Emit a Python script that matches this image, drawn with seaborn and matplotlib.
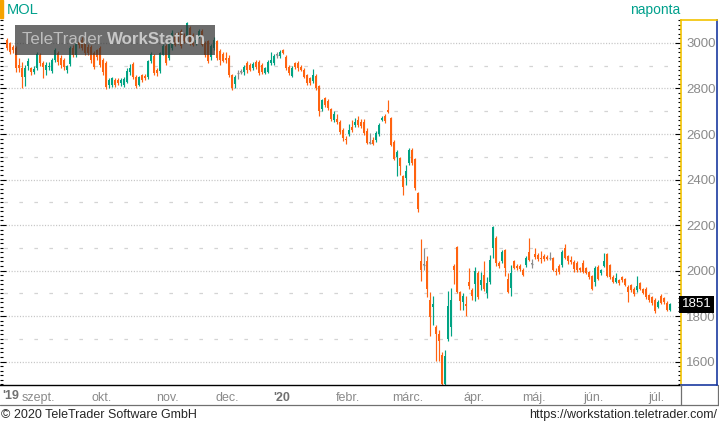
import numpy as np
import pandas as pd
import matplotlib
matplotlib.use('Agg')
import matplotlib.pyplot as plt
from matplotlib.ticker import MultipleLocator
from matplotlib.lines import Line2D
from matplotlib.patches import Rectangle
import seaborn as sns

## MOL daily candles, aug 2019 - jul 2020
holidays = ['2019-08-19', '2019-08-20', '2019-10-23', '2019-11-01', '2019-12-24',
            '2019-12-25', '2019-12-26', '2019-12-27', '2020-01-01', '2020-04-10',
            '2020-04-13', '2020-05-01', '2020-06-01']
dates = pd.bdate_range('2019-08-14', '2020-07-07')
dates = dates[~dates.isin(pd.to_datetime(holidays))]

opens = [3013, 2998, 2984, 2977, 2903, 2889, 2852, 2899, 2889, 2872, 2889, 2947, 2911, 2881, 2893, 2877,
         2925, 2955, 2935, 2925, 2881, 2908, 2977, 2947, 3005, 3013, 2999, 2984, 2984, 2955, 2969, 2977,
         2925, 2911, 2815, 2815, 2837, 2837, 2822, 2815, 2830, 2874, 2906, 2852, 2817, 2858, 2855, 2849,
         2920, 2941, 2883, 2876, 2949, 2985, 2934, 2978, 3036, 3044, 3051, 3036, 3029, 3066, 3036, 3000,
         3029, 3051, 3000, 3007, 2937, 2978, 3007, 2963, 2952, 2935, 2934, 2859, 2818, 2866, 2874, 2871,
         2913, 2903, 2889, 2918, 2918, 2903, 2870, 2874, 2911, 2911, 2947, 2943, 2969, 2937, 2896, 2855,
         2911, 2913, 2896, 2881, 2859, 2845, 2834, 2855, 2811, 2708, 2757, 2746, 2709, 2661, 2667, 2654,
         2618, 2577, 2600, 2632, 2640, 2662, 2653, 2653, 2615, 2562, 2574, 2574, 2600, 2662, 2679, 2705,
         2670, 2567, 2500, 2494, 2415, 2405, 2474, 2530, 2489, 2339, 2042, 2024, 2042, 1870, 1841, 1752,
         1721, 1628, 1501, 1699, 1752, 2020, 2103, 1907, 1862, 1852, 1950, 1914, 1941, 1990, 1935, 1982,
         1900, 1951, 2100, 2143, 2035, 2044, 2090, 1962, 1923, 2042, 2022, 2022, 2004, 2024, 2082, 2030,
         2073, 2068, 2055, 2066, 2060, 2054, 2055, 1998, 2020, 2024, 2101, 2064, 2046, 2038, 2031, 2009,
         2031, 2009, 1994, 1975, 1950, 2016, 1988, 2020, 2073, 2024, 1973, 1951, 1958, 1970, 1961, 1929,
         1936, 1921, 1914, 1944, 1917, 1921, 1892, 1882, 1870, 1841, 1888, 1878, 1859, 1826]
highs = [3020, 3005, 2990, 2985, 2934, 2916, 2903, 2934, 2895, 2900, 2960, 2955, 2920, 2915, 2915, 2935,
         2980, 2965, 2945, 2935, 2905, 2985, 2990, 3010, 3015, 3025, 3005, 2995, 2990, 2965, 2975, 2985,
         2935, 2920, 2845, 2850, 2845, 2845, 2845, 2850, 2890, 2908, 2915, 2858, 2855, 2865, 2862, 2925,
         2960, 2950, 2890, 2962, 2995, 2995, 3008, 3055, 3045, 3050, 3060, 3045, 3092, 3075, 3045, 3025,
         3060, 3060, 3010, 3015, 2995, 3025, 3015, 2975, 2960, 2960, 2945, 2865, 2858, 2880, 2885, 2905,
         2920, 2910, 2915, 2925, 2925, 2910, 2895, 2925, 2960, 2950, 2960, 2968, 2975, 2945, 2905, 2900,
         2918, 2920, 2905, 2888, 2865, 2850, 2886, 2862, 2815, 2755, 2762, 2752, 2715, 2700, 2690, 2662,
         2625, 2590, 2644, 2660, 2670, 2678, 2665, 2665, 2625, 2604, 2585, 2612, 2648, 2680, 2690, 2749,
         2675, 2575, 2530, 2500, 2420, 2464, 2538, 2540, 2495, 2345, 2138, 2099, 2064, 1907, 1887, 1760,
         1738, 1640, 1650, 1910, 1923, 2030, 2110, 1912, 1900, 1890, 2012, 1925, 2015, 2000, 1995, 2040,
         1970, 2068, 2195, 2150, 2040, 2090, 2095, 1990, 2025, 2045, 2030, 2030, 2010, 2065, 2145, 2050,
         2100, 2075, 2085, 2072, 2068, 2080, 2060, 2010, 2030, 2090, 2115, 2070, 2064, 2045, 2040, 2015,
         2045, 2015, 2000, 1980, 2020, 2025, 2008, 2077, 2078, 2030, 1980, 1989, 1965, 1978, 1968, 1935,
         1942, 1928, 1975, 1950, 1925, 1928, 1898, 1890, 1878, 1870, 1895, 1885, 1865, 1858]
lows = [2969, 2950, 2955, 2874, 2872, 2802, 2811, 2881, 2860, 2865, 2880, 2900, 2846, 2860, 2880, 2870,
        2915, 2905, 2890, 2880, 2870, 2900, 2940, 2940, 2980, 2970, 2945, 2945, 2912, 2885, 2925, 2895,
        2860, 2798, 2800, 2805, 2805, 2815, 2810, 2805, 2822, 2860, 2840, 2800, 2810, 2830, 2838, 2840,
        2912, 2860, 2855, 2870, 2945, 2905, 2925, 2970, 2985, 2995, 2978, 3000, 3020, 2990, 2985, 2990,
        3020, 2985, 2940, 2910, 2925, 2970, 2925, 2905, 2915, 2910, 2850, 2795, 2802, 2840, 2865, 2860,
        2870, 2875, 2880, 2885, 2860, 2865, 2862, 2868, 2905, 2905, 2935, 2935, 2950, 2880, 2860, 2850,
        2885, 2878, 2875, 2845, 2815, 2815, 2825, 2795, 2679, 2700, 2720, 2705, 2655, 2652, 2645, 2600,
        2570, 2555, 2592, 2610, 2630, 2632, 2628, 2595, 2555, 2556, 2550, 2565, 2592, 2655, 2650, 2691,
        2548, 2485, 2415, 2420, 2332, 2376, 2465, 2465, 2354, 2258, 1955, 2002, 1883, 1712, 1760, 1603,
        1603, 1497, 1497, 1690, 1712, 1940, 1900, 1826, 1826, 1801, 1920, 1870, 1866, 1875, 1915, 1910,
        1880, 1940, 2055, 2020, 2010, 2035, 1975, 1900, 1890, 2005, 2002, 2000, 1975, 2015, 2040, 2010,
        2050, 2040, 2035, 2040, 2045, 2045, 2000, 1980, 1985, 2015, 2050, 2030, 2030, 1995, 1995, 1995,
        1990, 1985, 1965, 1915, 1930, 1960, 1980, 2015, 1970, 1965, 1945, 1945, 1938, 1950, 1930, 1863,
        1905, 1890, 1905, 1915, 1895, 1875, 1862, 1848, 1815, 1835, 1852, 1852, 1820, 1820]
closes = [2977, 2962, 2969, 2889, 2889, 2852, 2889, 2922, 2874, 2885, 2952, 2911, 2896, 2903, 2900, 2925,
          2969, 2918, 2905, 2896, 2899, 2977, 2947, 2999, 2990, 2977, 2955, 2955, 2925, 2896, 2940, 2903,
          2874, 2805, 2837, 2845, 2815, 2825, 2837, 2840, 2878, 2889, 2849, 2811, 2849, 2839, 2848, 2920,
          2952, 2868, 2868, 2956, 2985, 2912, 3000, 3044, 2993, 3007, 2985, 3007, 3088, 3000, 2993, 3015,
          3051, 2993, 2949, 2922, 2985, 3015, 2934, 2927, 2922, 2925, 2859, 2802, 2849, 2866, 2874, 2896,
          2881, 2881, 2906, 2896, 2867, 2874, 2889, 2918, 2925, 2943, 2947, 2960, 2955, 2889, 2867, 2892,
          2893, 2889, 2881, 2852, 2823, 2823, 2859, 2801, 2703, 2749, 2727, 2713, 2665, 2686, 2653, 2610,
          2581, 2572, 2618, 2618, 2653, 2640, 2636, 2603, 2562, 2562, 2556, 2606, 2640, 2669, 2658, 2698,
          2552, 2489, 2522, 2459, 2368, 2437, 2530, 2474, 2363, 2271, 2002, 2024, 1919, 1797, 1853, 1721,
          1691, 1501, 1624, 1844, 1870, 2002, 1907, 1866, 1887, 1846, 1933, 1887, 2000, 1883, 1960, 1917,
          1944, 2046, 2193, 2033, 2020, 2080, 2011, 1907, 1990, 2012, 2012, 2008, 1980, 2055, 2046, 2030,
          2060, 2052, 2050, 2050, 2052, 2054, 2004, 1995, 1995, 2082, 2057, 2040, 2038, 2005, 2002, 2002,
          1994, 1989, 1972, 1921, 2009, 1965, 2002, 2043, 1976, 1973, 1951, 1966, 1944, 1958, 1936, 1907,
          1914, 1897, 1932, 1921, 1902, 1882, 1870, 1856, 1822, 1863, 1859, 1860, 1826, 1851]

month_labels = ['szept.', 'okt.', 'nov.', 'dec.', "'20", 'febr.', 'márc.', 'ápr.', 'máj.', 'jún.', 'júl.']
y_ticks = [1600, 1800, 2000, 2200, 2400, 2600, 2800, 3000]

df = pd.DataFrame({'date': dates, 'open': opens, 'high': highs, 'low': lows, 'close': closes})
df['pos'] = np.arange(len(df))
UP, DOWN, FLAT = '#00a383', '#ff6310', '#8c8c8c'
df['color'] = np.where(df['close'] > df['open'], UP, np.where(df['close'] < df['open'], DOWN, FLAT))

sns.set_style('white')
plt.rcParams['font.family'] = ['Liberation Sans Narrow', 'Liberation Sans', 'DejaVu Sans']
plt.rcParams['lines.scale_dashes'] = False

W, H = 719, 425
fig = plt.figure(figsize=(W / 100, H / 100), dpi=100)
def fx(p): return p / W
def fy(p): return 1 - p / H

PLOT_TOP, PLOT_BOT, PLOT_R = 20, 385, 681
ax = fig.add_axes([0, fy(PLOT_BOT), fx(PLOT_R), (PLOT_BOT - PLOT_TOP) / H])
x0 = -7 / 3
ax.set_xlim(x0, x0 + PLOT_R / 3)
ax.set_ylim(1497, 3101)

# grid: dotted majors, sparse dashes in between
for lv in np.arange(1600, 3001, 200):
    ax.axhline(lv, color='#c4c4c4', lw=0.9, ls=(0, (0.8, 1.2)), zorder=0)
for lv in np.arange(1700, 3000, 200):
    ax.axhline(lv, color='#d4d4d4', lw=0.9, ls=(8, (2.6, 8.2)), zorder=0)

# candles
ax.vlines(df['pos'], df['low'], df['high'], colors=df['color'], lw=0.85, zorder=2)
body_lo = np.minimum(df['open'], df['close'])
body_h = np.maximum(np.abs(df['close'] - df['open']), 3)
ax.bar(df['pos'], body_h, bottom=body_lo, width=0.8, color=df['color'], linewidth=0, zorder=3)
flat = df[df['close'] == df['open']]
ax.hlines(flat['close'], flat['pos'] - 0.45, flat['pos'] + 0.45, colors=FLAT, lw=0.9, zorder=3)

for s in ['top', 'left', 'right']:
    ax.spines[s].set_visible(False)
ax.spines['bottom'].set_color('black')
ax.spines['bottom'].set_linewidth(1.0)

ax.yaxis.set_major_locator(MultipleLocator(200))
ax.yaxis.set_minor_locator(MultipleLocator(20))
ax.tick_params(axis='y', which='both', left=True, right=True, direction='in',
               labelleft=False, labelright=False, color='black', width=0.8)
ax.tick_params(axis='y', which='major', length=4)
ax.tick_params(axis='y', which='minor', length=2.5)

# month ticks at the first trading day of each month
first = df.groupby(df['date'].dt.to_period('M'))['pos'].min().values[1:]
ax.set_xticks(first - 0.5)
ax.set_xticklabels(month_labels)
ax.tick_params(axis='x', length=2, color='#909090', pad=3, labelsize=9, labelcolor='#8a8a8a')
for t in ax.get_xticklabels():
    if t.get_text().startswith("'"):
        t.set_fontweight('bold')
        t.set_color('#707070')
ax.text(x0 + 11 / 3, -0.014, "'19", transform=ax.get_xaxis_transform(), ha='center', va='top',
        fontsize=9, fontweight='bold', color='#707070')

# right price axis panel
ax2 = fig.add_axes([fx(PLOT_R), fy(PLOT_BOT), fx(717 - PLOT_R), (PLOT_BOT - PLOT_TOP) / H])
ax2.set_ylim(ax.get_ylim())
ax2.set_xticks([])
ax2.set_yticks(y_ticks)
ax2.yaxis.tick_right()
ax2.tick_params(axis='y', length=0, pad=-22, labelsize=9.5, labelcolor='#8a8a8a')
for t in ax2.get_yticklabels():
    t.set_ha('left')
ax2.spines['left'].set_color('#f2c200')
ax2.spines['top'].set_color('#f2c200')
ax2.spines['right'].set_color('#1a3aa0')
ax2.spines['bottom'].set_color('#1a3aa0')
for s in ax2.spines.values():
    s.set_linewidth(1.2)
last = closes[-1]
ax2.text(0.02, last, f'{last}', transform=ax2.get_yaxis_transform(), ha='left', va='center',
         color='white', fontsize=9.5,
         bbox=dict(boxstyle='square,pad=0.22', fc='black', ec='none'))

# header
fig.add_artist(Rectangle((0, fy(18)), fx(3), 18 / H, transform=fig.transFigure, color='#f5a300'))
fig.text(fx(7), fy(10), 'MOL', color='#00a08c', fontsize=10.5, va='center', ha='left')
fig.text(fx(680), fy(10), 'naponta', color='#00a08c', fontsize=10, va='center', ha='right')

# watermark
fig.add_artist(Rectangle((fx(15), fy(55)), fx(200), 30 / H, transform=fig.transFigure,
                         fc='#333333', alpha=0.72, ec='none', zorder=5))
t1 = fig.text(fx(22), fy(40), 'TeleTrader ', color='#bdbdbd', fontsize=12.2, va='center', zorder=6)
fig.canvas.draw()
bb = t1.get_window_extent()
fig.text(bb.x1 / W, fy(40), 'WorkStation', color='#c8c8c8', fontsize=12.2, fontweight='bold',
         va='center', zorder=6)

# bottom frame lines and footer
fig.add_artist(Line2D([0, 1], [fy(405), fy(405)], transform=fig.transFigure, color='#707070', lw=0.9))
for xp in (681, 717.5):
    fig.add_artist(Line2D([fx(xp), fx(xp)], [fy(385), fy(405)], transform=fig.transFigure,
                          color='#707070', lw=0.9))
fig.text(fx(1), fy(415), '© 2020 TeleTrader Software GmbH', fontsize=9, va='center', ha='left')
fig.text(fx(717), fy(415), 'https://workstation.teletrader.com/', fontsize=9, va='center', ha='right')

fig.savefig('out.png', dpi=100)
